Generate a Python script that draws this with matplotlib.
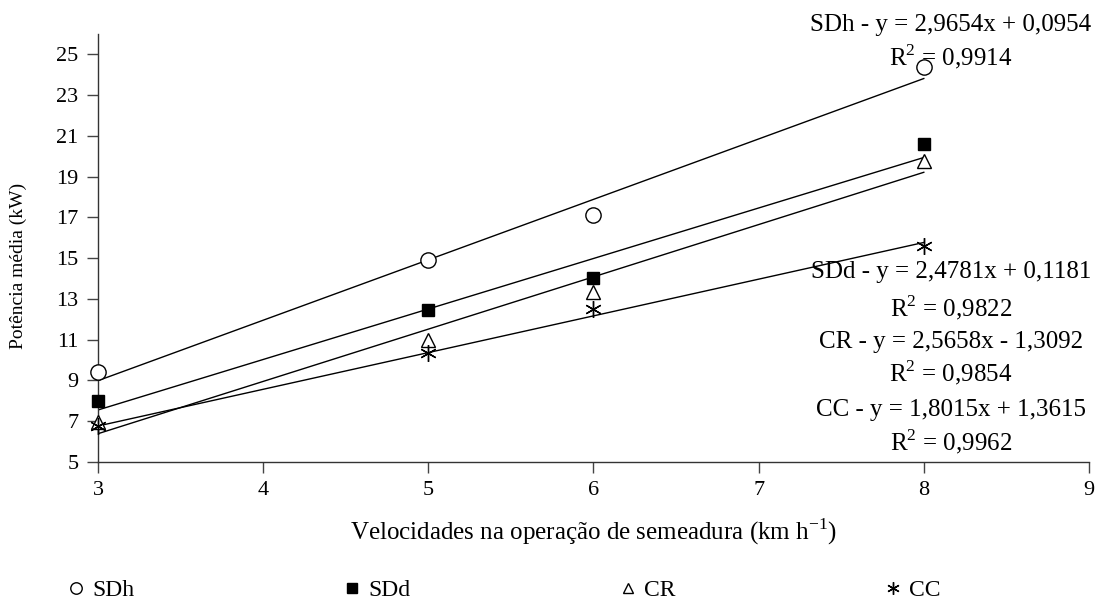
import numpy as np
import matplotlib.pyplot as plt
from matplotlib.lines import Line2D

plt.rcParams['font.family'] = ['Liberation Serif', 'DejaVu Serif']
plt.rcParams['mathtext.fontset'] = 'custom'
plt.rcParams['mathtext.rm'] = 'Liberation Serif'

# speeds (km/h)
speeds = [3, 5, 6, 8]

# measured mean power (kW)
sdh = [9.4, 14.9, 17.1, 24.4]
sdd = [8.0, 12.45, 14.05, 20.6]
cr = [6.95, 11.0, 13.35, 19.75]
cc = [6.75, 10.35, 12.5, 15.6]

# linear fits (slope, intercept, r2)
names = ["SDh", "SDd", "CR", "CC"]
slopes = [2.9654, 2.4781, 2.5658, 1.8015]
intercepts = [0.0954, 0.1181, -1.3092, 1.3615]
r2 = [0.9914, 0.9822, 0.9854, 0.9962]

series = [sdh, sdd, cr, cc]
markers = [dict(marker='o', mfc='white', mec='black', ms=11, mew=1.0),
           dict(marker='s', mfc='black', mec='black', ms=9),
           dict(marker='^', mfc='white', mec='black', ms=10, mew=1.0),
           dict(marker=(6, 2, 0), mfc='black', mec='black', ms=12, mew=1.0)]

fig = plt.figure(figsize=(11.06, 6.01), dpi=100)
ax = fig.add_axes([0.0886, 0.2313, 0.896, 0.712])

xfit = np.array([speeds[0], speeds[-1]])
for ys, mk, a, b in zip(series, markers, slopes, intercepts):
    ax.plot(speeds, ys, ls='none', zorder=3, clip_on=False, **mk)
    ax.plot(xfit, a * xfit + b, color='black', lw=1.0, zorder=2)

ax.set_xlim(3, 9)
ax.set_ylim(5, 26)
ax.set_xticks(range(3, 10))
ax.set_yticks(range(5, 26, 2))
ax.tick_params(labelsize=16, direction='out', length=8, width=1.0, color='#444444', pad=6)
for s in ['top', 'right']:
    ax.spines[s].set_visible(False)
for s in ['left', 'bottom']:
    ax.spines[s].set_color('#333333')
    ax.spines[s].set_linewidth(1.0)

ax.set_xlabel("Velocidades na operação de semeadura (km h$^{-1}$)", fontsize=18, va='center')
ax.xaxis.set_label_coords(0.5, -(532 - 462) / 428)
ax.set_ylabel("Potência média (kW)", fontsize=14)
ax.yaxis.set_label_coords(-0.072, (462 - 266) / 428)

# equation labels
eq_pos = [(951, 25, 57), (951, 272, 308), (951, 342, 373), (951, 410, 442)]
for (px, py, pr), n, a, b, r in zip(eq_pos, names, slopes, intercepts, r2):
    sign = "+" if b >= 0 else "-"
    a_s = f"{a:.4f}".replace(".", ",")
    b_s = f"{abs(b):.4f}".replace(".", ",")
    r_s = f"{r:.4f}".replace(".", ",")
    fig.text(px / 1106, 1 - py / 601, f"{n} - y = {a_s}x {sign} {b_s}",
             fontsize=18, ha='center', va='center')
    fig.text(px / 1106, 1 - pr / 601, f"R$^2$ = {r_s}",
             fontsize=18, ha='center', va='center')

handles = [Line2D([], [], ls='none', **{**mk, 'ms': mk['ms'] * 0.75}) for mk in markers]
fig.legend(handles, names, loc='center left', bbox_to_anchor=(0.06, 1 - 590 / 601),
           ncol=4, frameon=False, fontsize=17, handlelength=0.8, handletextpad=0.3,
           columnspacing=8.8, borderpad=0, borderaxespad=0)

fig.savefig("out.png", dpi=100)
